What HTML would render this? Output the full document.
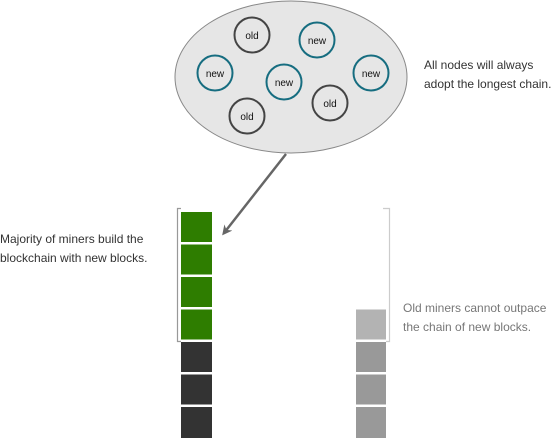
<!DOCTYPE html>
<html><head><meta charset="utf-8"><style>
body{margin:0;background:#fff;}
svg{display:block;}
text{font-family:"Liberation Sans",sans-serif;}
</style></head><body>
<svg width="560" height="438" viewBox="0 0 560 438">
<defs><marker id="ah" markerWidth="10" markerHeight="10" refX="7" refY="5" orient="auto" markerUnits="userSpaceOnUse"><path d="M0,0 L10,5 L0,10 L3,5 Z" fill="#666"/></marker></defs>
<ellipse cx="291" cy="77" rx="116" ry="76" fill="#e6e6e6" stroke="#888" stroke-width="1"/>
<g font-size="10" text-anchor="middle" fill="#111">
<g><circle cx="252" cy="35" r="17.5" fill="none" stroke="#444" stroke-width="2"/><text x="252" y="39">old</text></g>
<g><circle cx="317" cy="40" r="17.5" fill="none" stroke="#166d80" stroke-width="2"/><text x="317" y="44">new</text></g>
<g><circle cx="215" cy="73" r="17.5" fill="none" stroke="#166d80" stroke-width="2"/><text x="215" y="77">new</text></g>
<g><circle cx="284" cy="82" r="17.5" fill="none" stroke="#166d80" stroke-width="2"/><text x="284" y="86">new</text></g>
<g><circle cx="371" cy="73" r="17.5" fill="none" stroke="#166d80" stroke-width="2"/><text x="371" y="77">new</text></g>
<g><circle cx="330" cy="103" r="17.5" fill="none" stroke="#444" stroke-width="2"/><text x="330" y="107">old</text></g>
<g><circle cx="247" cy="116" r="17.5" fill="none" stroke="#444" stroke-width="2"/><text x="247" y="120">old</text></g>
</g>
<line x1="286" y1="154" x2="224" y2="233" stroke="#666" stroke-width="2.5" marker-end="url(#ah)"/>
<text x="424" y="69" font-size="12" fill="#333">All nodes will always</text>
<text x="424" y="88" font-size="12" fill="#333">adopt the longest chain.</text>
<g>
<rect x="181" y="212" width="31" height="30" fill="#2e7d00"/>
<rect x="181" y="244.5" width="31" height="30" fill="#2e7d00"/>
<rect x="181" y="277" width="31" height="30" fill="#2e7d00"/>
<rect x="181" y="309.5" width="31" height="30" fill="#2e7d00"/>
<rect x="181" y="342" width="31" height="30" fill="#333"/>
<rect x="181" y="374.5" width="31" height="30" fill="#333"/>
<rect x="181" y="407" width="31" height="31" fill="#333"/>
</g>
<g>
<rect x="356" y="309.5" width="30" height="30" fill="#b3b3b3"/>
<rect x="356" y="342" width="30" height="30" fill="#999"/>
<rect x="356" y="374.5" width="30" height="30" fill="#999"/>
<rect x="356" y="407" width="30" height="31" fill="#999"/>
</g>
<path d="M181,208.5 H177.5 V341.5 H181" fill="none" stroke="#999" stroke-width="1.2"/>
<path d="M383,208.5 H389.5 V341.5 H386" fill="none" stroke="#ccc" stroke-width="1.2"/>
<text x="0" y="243" font-size="12" fill="#333">Majority of miners build the</text>
<text x="0" y="262" font-size="12" fill="#333">blockchain with new blocks.</text>
<text x="403" y="312" font-size="12" fill="#777">Old miners cannot outpace</text>
<text x="403" y="331" font-size="12" fill="#777">the chain of new blocks.</text>
</svg>
</body></html>
